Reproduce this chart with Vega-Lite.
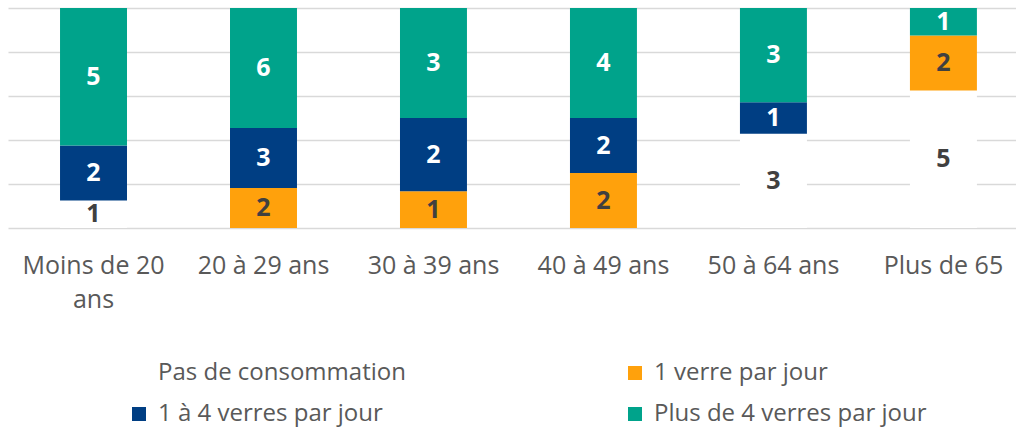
{
  "$schema": "https://vega.github.io/schema/vega-lite/v6.json",
  "width": 1008,
  "height": 220,
  "autosize": {"type": "none"},
  "padding": {"left": 8, "top": 8, "right": 0, "bottom": 202},
  "background": "white",
  "config": {
    "view": {"stroke": null},
    "font": "Open Sans"
  },
  "data": {
    "values": [
      {"age": "Moins de 20 ans", "serie": "Pas de consommation", "n": 1},
      {"age": "Moins de 20 ans", "serie": "1 à 4 verres par jour", "n": 2},
      {"age": "Moins de 20 ans", "serie": "Plus de 4 verres par jour", "n": 5},
      {"age": "20 à 29 ans", "serie": "1 verre par jour", "n": 2},
      {"age": "20 à 29 ans", "serie": "1 à 4 verres par jour", "n": 3},
      {"age": "20 à 29 ans", "serie": "Plus de 4 verres par jour", "n": 6},
      {"age": "30 à 39 ans", "serie": "1 verre par jour", "n": 1},
      {"age": "30 à 39 ans", "serie": "1 à 4 verres par jour", "n": 2},
      {"age": "30 à 39 ans", "serie": "Plus de 4 verres par jour", "n": 3},
      {"age": "40 à 49 ans", "serie": "1 verre par jour", "n": 2},
      {"age": "40 à 49 ans", "serie": "1 à 4 verres par jour", "n": 2},
      {"age": "40 à 49 ans", "serie": "Plus de 4 verres par jour", "n": 4},
      {"age": "50 à 64 ans", "serie": "Pas de consommation", "n": 3},
      {"age": "50 à 64 ans", "serie": "1 à 4 verres par jour", "n": 1},
      {"age": "50 à 64 ans", "serie": "Plus de 4 verres par jour", "n": 3},
      {"age": "Plus de 65", "serie": "Pas de consommation", "n": 5},
      {"age": "Plus de 65", "serie": "1 verre par jour", "n": 2},
      {"age": "Plus de 65", "serie": "Plus de 4 verres par jour", "n": 1}
    ]
  },
  "transform": [
    {"calculate": "indexof(['Pas de consommation','1 verre par jour','1 à 4 verres par jour','Plus de 4 verres par jour'], datum.serie)", "as": "ord"},
    {"stack": "n", "groupby": ["age"], "sort": [{"field": "ord", "order": "ascending"}], "offset": "normalize", "as": ["y0", "y1"]},
    {"calculate": "(datum.y0 + datum.y1) / 2", "as": "mid"}
  ],
  "encoding": {
    "x": {
      "field": "age",
      "type": "nominal",
      "sort": ["Moins de 20 ans", "20 à 29 ans", "30 à 39 ans", "40 à 49 ans", "50 à 64 ans", "Plus de 65"],
      "scale": {"paddingInner": 0.606, "paddingOuter": 0.268, "align": 0.571},
      "axis": {
        "title": null,
        "domain": false,
        "ticks": false,
        "tickSize": 0,
        "labelAngle": 0,
        "labelFont": "Open Sans",
        "labelFontSize": 25,
        "labelColor": "#595959",
        "labelPadding": 25,
        "labelLineHeight": 34,
        "labelLimit": 300,
        "labelExpr": "datum.value == 'Moins de 20 ans' ? ['Moins de 20', 'ans'] : datum.value"
      }
    }
  },
  "layer": [
    {
      "mark": {"type": "bar"},
      "encoding": {
        "y": {
          "field": "y0",
          "type": "quantitative",
          "scale": {"domain": [0, 1], "nice": false},
          "axis": {
            "title": null,
            "labels": false,
            "ticks": false,
            "domain": false,
            "values": [0, 0.2, 0.4, 0.6, 0.8, 1],
            "grid": true,
            "gridColor": "#d9d9d9",
            "gridWidth": 1.5
          }
        },
        "y2": {"field": "y1"},
        "color": {
          "field": "serie",
          "type": "nominal",
          "scale": {
            "domain": ["Pas de consommation", "1 verre par jour", "1 à 4 verres par jour", "Plus de 4 verres par jour"],
            "range": ["#ffffff", "#FFA10C", "#003E83", "#00A38B"]
          },
          "legend": {
            "title": null,
            "orient": "none",
            "direction": "horizontal",
            "legendX": 119,
            "legendY": 353,
            "columns": 2,
            "columnPadding": 217,
            "rowPadding": 17,
            "symbolType": "square",
            "symbolSize": 196,
            "symbolStrokeWidth": 0,
            "labelFont": "Open Sans",
            "labelFontSize": 24,
            "labelColor": "#595959",
            "labelOffset": 7,
            "labelLimit": 400
          }
        }
      }
    },
    {
      "mark": {"type": "text", "fontWeight": "bold", "fontSize": 25, "font": "Open Sans", "baseline": "middle"},
      "encoding": {
        "y": {"field": "mid", "type": "quantitative"},
        "text": {"field": "n", "type": "quantitative"},
        "color": {
          "condition": {"test": "datum.serie == 'Pas de consommation' || datum.serie == '1 verre par jour'", "value": "#404040"},
          "value": "#ffffff"
        }
      }
    }
  ]
}
